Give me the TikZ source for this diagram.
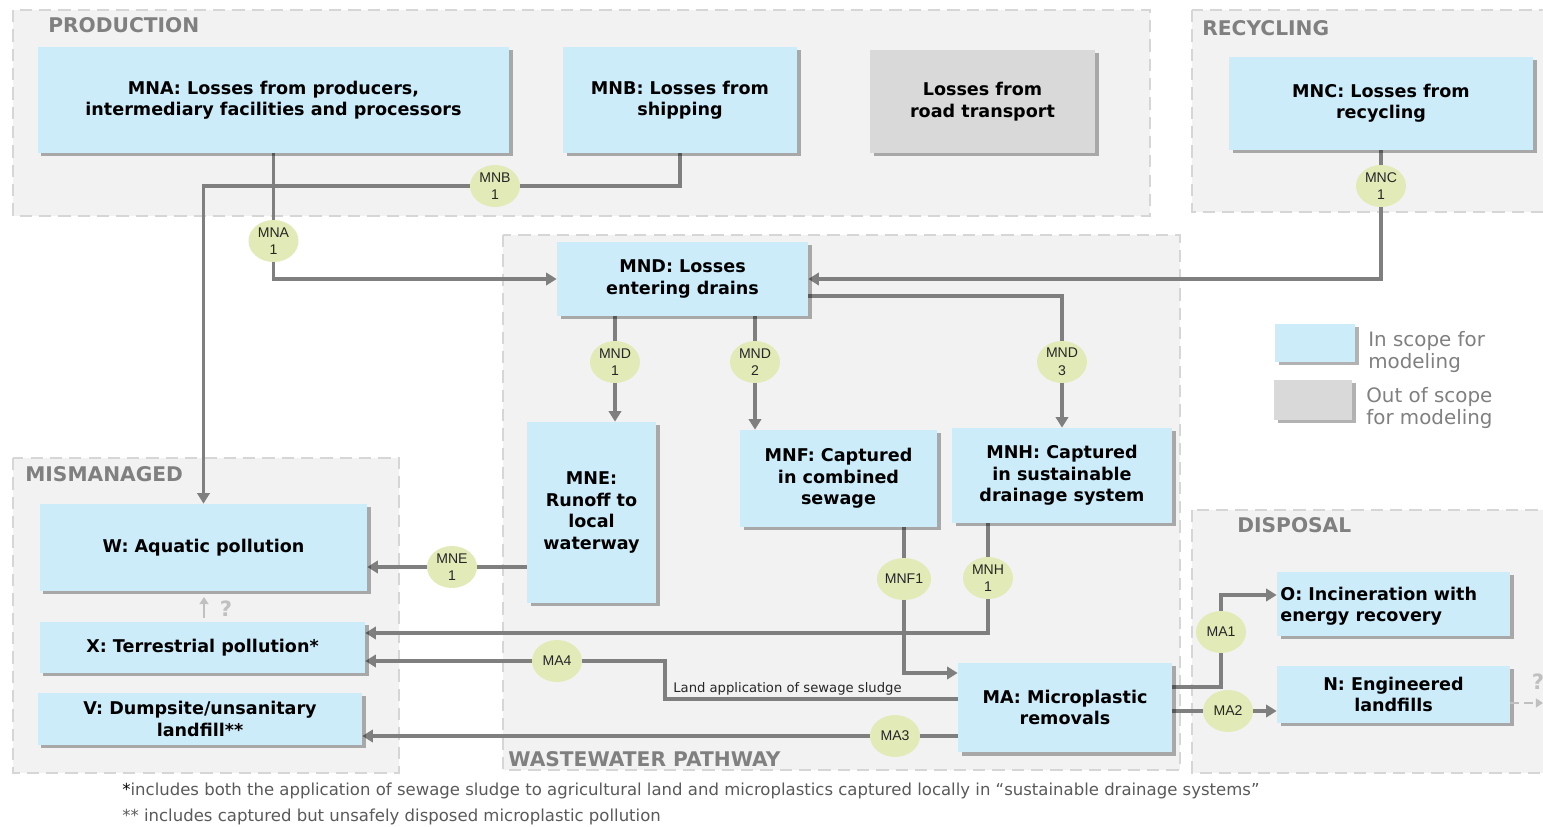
\documentclass[tikz,border=0pt]{standalone}
\usepackage{fontspec}
\setmainfont{DejaVu Sans}
\newfontfamily\tagfont{Liberation Sans}
\usetikzlibrary{shapes.geometric,arrows.meta,shadows,calc}

\definecolor{inblue}{HTML}{CCECFA}
\definecolor{outgray}{HTML}{D9D9D9}
\definecolor{grpfill}{HTML}{F2F2F2}
\definecolor{grpline}{HTML}{D6D6D6}
\definecolor{conngray}{HTML}{7F7F7F}
\definecolor{titlegray}{HTML}{808080}
\definecolor{tagfill}{HTML}{E2EBB7}
\definecolor{notegray}{HTML}{5A5A5A}
\definecolor{faint}{HTML}{C0C0C0}

\pgfdeclarelayer{backdrop}
\pgfdeclarelayer{lines}
\pgfsetlayers{backdrop,lines,main}

% box from its corner pixels: style, x1, y1, x2, y2, name
\newcommand\flowbox[6]{\node[#1,minimum width={(#4-#2)*0.02cm},minimum height={(#5-#3)*0.02cm}] (#6) at ({(#2+#4)/2},{(#3+#5)/2})}

\begin{document}
\begin{tikzpicture}[x=0.02cm,y=-0.02cm,
  group/.style={fill=grpfill,draw=grpline,line width=1.6pt,dash pattern=on 7pt off 4pt},
  grouptitle/.style={anchor=west,text=titlegray,inner sep=0,font=\fontsize{11.5}{13}\selectfont\bfseries},
  box/.style={fill=inblue,inner sep=0,align=center,text=black,
    font=\fontsize{10}{12.2}\selectfont\bfseries,
    drop shadow={shadow xshift=0.07cm,shadow yshift=-0.07cm,opacity=0.3,fill=black}},
  outbox/.style={box,fill=outgray},
  link/.style={draw=conngray,line width=2.2pt},
  flow/.style={link,-{Triangle[length=6pt,width=7pt]}},
  tag/.style={ellipse,fill=tagfill,minimum width=1cm,minimum height=0.84cm,inner sep=0,
    align=center,text=black!85,font=\tagfont\fontsize{8}{10}\selectfont},
  legendtext/.style={anchor=west,align=left,inner sep=0,text=titlegray,font=\fontsize{11.3}{13}\selectfont},
  note/.style={anchor=west,inner sep=0,text=notegray,font=\fontsize{9.4}{11}\selectfont},
]
\useasboundingbox (0,0) rectangle (1543,827);

% ---- stage areas ----
\begin{pgfonlayer}{backdrop}
\fill[white] (0,0) rectangle (1543,827);
\draw[group] (13,10) rectangle (1150,216);
\draw[group] (1192,10) rectangle (1556,212);
\draw[group] (503,235) rectangle (1180,770);
\draw[group] (13,458) rectangle (399,773);
\draw[group] (1192,510) rectangle (1556,773);
\end{pgfonlayer}

\node[grouptitle] (tprod) at (48,25) {PRODUCTION};
\node[grouptitle] (trec) at (1202,28) {RECYCLING};
\node[grouptitle] (tmis) at (25,474) {MISMANAGED};
\node[grouptitle] (tdis) at (1237,525) {DISPOSAL};
\node[grouptitle] (tww) at (508,759) {WASTEWATER PATHWAY};

% ---- boxes ----
\flowbox{box}{38}{47}{509}{153}{mna} {MNA: Losses from producers,\\intermediary facilities and processors};
\flowbox{box}{563}{47}{797}{153}{mnb} {MNB: Losses from\\shipping};
\flowbox{outbox}{870}{50}{1095}{153}{road} {Losses from\\road transport};
\flowbox{box}{1229}{57}{1533}{150}{mnc} {MNC: Losses from\\recycling};
\flowbox{box}{557}{242}{808}{316}{mnd} {MND: Losses\\entering drains};
\flowbox{box}{527}{422}{656}{603}{mne} {MNE:\\Runoff to\\local\\waterway};
\flowbox{box}{740}{430}{937}{527}{mnf} {MNF: Captured\\in combined\\sewage};
\flowbox{box}{952}{428}{1172}{523}{mnh} {MNH: Captured\\in sustainable\\drainage system};
\flowbox{box}{40}{504}{367}{591}{w} {W: Aquatic pollution};
\flowbox{box}{40}{622}{365}{673}{x} {X: Terrestrial pollution*};
\flowbox{box}{38}{693}{362}{745}{v} {V: Dumpsite/unsanitary\\landfill**};
\flowbox{box}{958}{663}{1172}{752}{ma} {MA: Microplastic\\removals};
\flowbox{box}{1277}{572}{1510}{636}{o} {};
\node[anchor=west,align=left,inner sep=0,font=\fontsize{10}{12.2}\selectfont\bfseries] (otext) at (1280,606) {O: Incineration with\\energy recovery};
\flowbox{box}{1277}{666}{1510}{723}{n} {N: Engineered\\landfills};

% ---- legend ----
\flowbox{box}{1275}{324}{1355}{362}{legin} {};
\flowbox{outbox}{1274}{380}{1352}{420}{legout} {};
\node[legendtext] (legintext) at (1368,352) {In scope for\\modeling};
\node[legendtext] (legouttext) at (1366,408) {Out of scope\\for modeling};

% ---- flow tags ----
\node[tag] (mna1) at (273.5,241) {MNA\\1};
\node[tag] (mnb1) at (495,186) {MNB\\1};
\node[tag] (mnc1) at (1381,186) {MNC\\1};
\node[tag] (mnd1) at (615,362) {MND\\1};
\node[tag] (mnd2) at (755,362) {MND\\2};
\node[tag] (mnd3) at (1062,362) {MND\\3};
\node[tag] (mne1) at (452,567) {MNE\\1};
\node[tag] (mnf1) at (904,579) {MNF1};
\node[tag] (mnh1) at (988,578) {MNH\\1};
\node[tag] (ma4) at (557,661) {MA4};
\node[tag] (ma3) at (895,736) {MA3};
\node[tag] (ma1) at (1221,632) {MA1};
\node[tag] (ma2) at (1228,711) {MA2};

% ---- bend points ----
\coordinate (hx) at (988,633);
\coordinate (fma) at (904,673);
\coordinate (s1) at (665,699);
\coordinate (s2) at (665,661);
\coordinate (a1) at (1221,687);
\coordinate (a2) at (1221,595);
\coordinate (q1) at (204,618);
\coordinate (q2) at (204,597);
\coordinate (nq) at (1543,703);

% ---- connectors, kept under the tags ----
\begin{pgfonlayer}{lines}
\path[flow] (mna.south) |- (mnd.west);
\path[flow] (mnb.south) |- (mnb1.center) -| (w.north);
\path[flow] (mnc.south) |- (mnd.east);
\path[flow] ($(mnd.east)+(0,17)$) -| (mnh.north);
\path[flow] (mnd.south -| mnd1) -- (mne.north -| mnd1);
\path[flow] (mnd.south -| mnd2) -- (mnf.north -| mnd2);
\path[flow] (mne.west |- mne1) -- (w.east |- mne1);
\path[flow] (mnh.south -| hx) -- (hx) -- (x.east |- hx);
\path[flow] (mnf.south -| fma) -- (fma) -- (ma.west |- fma);
\path[flow] (ma.west |- s1) -- (s1) -- (s2) -- (x.east |- s2);
\path[flow] (ma.west |- ma3) -- (v.east |- ma3);
\path[flow] (ma.east |- a1) -- (a1) -- (a2) -- (o.west |- a2);
\path[flow] (ma.east |- ma2) -- (n.west |- ma2);
\end{pgfonlayer}

\node[anchor=west,inner sep=0,text=black!85,font=\fontsize{7.5}{8}\selectfont] (sludge) at (673,689) {Land application of sewage sludge};

% ---- uncertain transfers ----
\draw[draw=faint,line width=1.6pt,-{Triangle[length=4pt,width=5pt]}] (q1) -- (q2);
\node[text=faint,inner sep=0,font=\fontsize{12}{12}\selectfont\bfseries] (qmark) at (226,609) {?};
\draw[draw=faint,line width=1.6pt,dash pattern=on 5pt off 3pt,-{Triangle[length=4pt,width=5pt]}] (n.east |- nq) -- (nq);
\node[text=faint,inner sep=0,font=\fontsize{12}{12}\selectfont\bfseries] (nqmark) at (1538,682) {?};

% ---- footnotes ----
\node[note] (fn1) at (122,791) {\textcolor{black}{*}includes both the application of sewage sludge to agricultural land and microplastics captured locally in “sustainable drainage systems”};
\node[note] (fn2) at (122,817) {** includes captured but unsafely disposed microplastic pollution};
\end{tikzpicture}
\end{document}
